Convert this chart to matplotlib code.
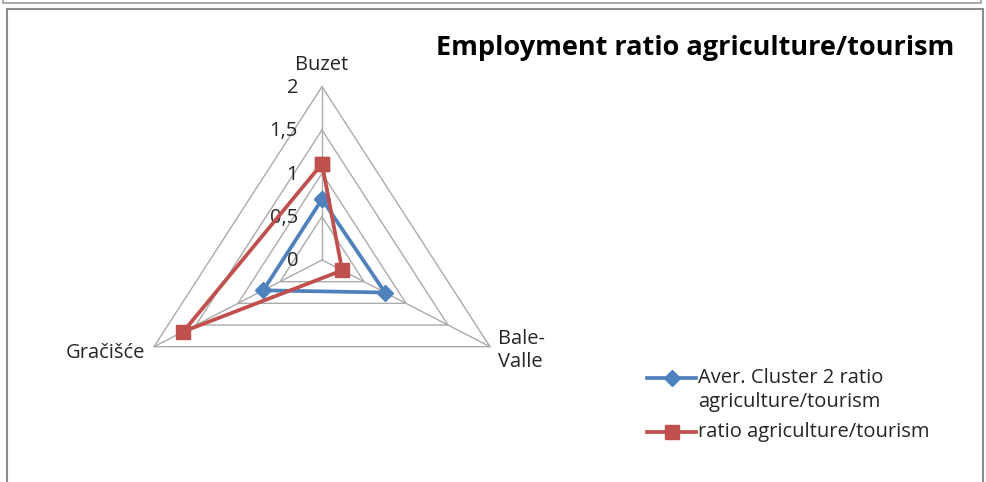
import numpy as np
import matplotlib
matplotlib.use("Agg")
import matplotlib.pyplot as plt
from matplotlib.lines import Line2D
from matplotlib.patches import Rectangle

plt.rcParams['font.family'] = ['Open Sans', 'DejaVu Sans']

# data
categories = ['Buzet', 'Bale-\nValle', 'Gračišće']
avg_cluster = [0.70, 0.75, 0.70]
ratio = [1.11, 0.24, 1.65]
rings = [0.5, 1.0, 1.5, 2.0]
tick_labels = ['0', '0,5', '1', '1,5', '2']
series_names = ['Aver. Cluster 2 ratio\nagriculture/tourism', 'ratio agriculture/tourism']

blue = '#4F81BD'
red = '#C0504D'
grid = '#ABABAB'
txt = '#262626'

W, H = 986, 482
fig = plt.figure(figsize=(W / 100, H / 100), dpi=100)

def fx(px):
    return px / W

def fy(py):
    return 1 - py / H

# frame like the screenshot
fig.add_artist(Line2D([fx(3), fx(3), fx(981), fx(981)], [1, fy(3), fy(3), 1],
                      color='#9a9a9a', lw=1.2))
fig.add_artist(Rectangle((fx(7), fy(490)), fx(976), (490 - 9) / H,
                         fill=False, ec='#8c8c8c', lw=1.5, transform=fig.transFigure))

# radar axes, centre at (322, 260) px, 97 px/unit in x and 86.7 px/unit in y
cx, cy, sx, sy = 322, 260, 97.0, 86.7
ax = fig.add_axes([0, 0, 1, 1])
ax.set_xlim(-cx / sx, (W - cx) / sx)
ax.set_ylim(-(H - cy) / sy, cy / sy)
ax.axis('off')

angles = np.deg2rad([90, -30, 210])

def xy(vals):
    v = np.asarray(vals + vals[:1], dtype=float)
    a = np.concatenate([angles, angles[:1]])
    return v * np.cos(a), v * np.sin(a)

for r in rings:
    x, y = xy([r] * 3)
    ax.plot(x, y, color=grid, lw=1.0, zorder=1)
for a in angles:
    ax.plot([0, 2 * np.cos(a)], [0, 2 * np.sin(a)], color=grid, lw=1.0, zorder=1)

x, y = xy(avg_cluster)
ax.plot(x, y, color=blue, lw=2.7, marker='D', ms=8.5, mec=blue, zorder=3)
x, y = xy(ratio)
ax.plot(x, y, color=red, lw=2.7, marker='s', ms=10.5, mec=red, zorder=4)

# value labels along the top spoke
for v, t in zip([0] + rings, tick_labels):
    ax.text(-24 / sx, v - 1.5 / sy, t, ha='right', va='center', fontsize=14.5, color=txt)

# category labels
ax.text(0, 2.0 + 22 / sy, categories[0], ha='center', va='center', fontsize=14.5, color=txt)
bx, by = 2 * np.cos(angles[1]), 2 * np.sin(angles[1])
ax.text(bx + 8 / sx, by + 18 / sy, categories[1], ha='left', va='top', fontsize=14.5,
        color=txt, linespacing=1.25)
gx, gy = 2 * np.cos(angles[2]), 2 * np.sin(angles[2])
ax.text(gx - 9 / sx, gy - 6 / sy, categories[2], ha='right', va='center', fontsize=14.5,
        color=txt)

fig.text(fx(695), fy(48), 'Employment ratio agriculture/tourism', ha='center', va='center',
         fontsize=19.5, fontweight='bold', color='black')

# legend
for (yy, col, mk, ms), name in zip([(378, blue, 'D', 8.5), (432, red, 's', 10.5)], series_names):
    fig.add_artist(Line2D([fx(647), fx(696)], [fy(yy), fy(yy)], color=col, lw=2.7))
    fig.add_artist(Line2D([fx(671.5)], [fy(yy)], color=col, marker=mk, ms=ms, mec=col))
    fig.text(fx(698), fy(yy - 10), name, ha='left', va='top', fontsize=14.5, color=txt,
             linespacing=1.25)

fig.savefig('out.png', dpi=100)
